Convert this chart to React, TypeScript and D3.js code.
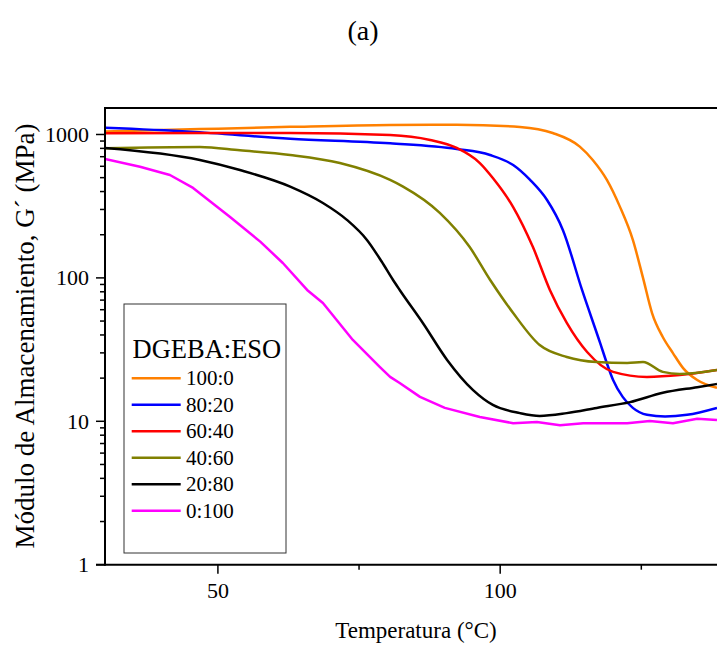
import React from 'react';
import * as d3 from 'd3';

// Temperatura (°C), G' (MPa) pairs
const s100_0: [number, number][] = [
  [30, 1047], [46.8, 1090], [62.8, 1130], [80.5, 1165], [92.3, 1170], [103.5, 1128],
  [109.3, 1024], [114.1, 823], [116.4, 664], [118.9, 482], [121.2, 314], [123.5, 184],
  [125.3, 100], [126.9, 56.9], [128.8, 38.7], [130.6, 29.9], [132.4, 23.5],
  [134.9, 19.4], [138.4, 17.1],
];
const s80_20: [number, number][] = [
  [30, 1115], [45, 1047], [62.8, 934], [80.5, 868], [92.3, 792], [98.2, 719],
  [102.3, 612], [105.3, 482], [108.3, 349], [111.1, 216], [114.5, 82.4], [117.7, 35.2],
  [118.9, 25.4], [120.0, 19.4], [121.7, 14.8], [123.5, 12.4], [126.0, 11.1],
  [129.2, 10.8], [133.1, 11.1], [138.4, 12.4],
];
const s60_40: [number, number][] = [
  [30, 1019], [62.8, 1024], [80.5, 993], [87.6, 916], [92.3, 805], [96.4, 632],
  [98.7, 497], [102.3, 312], [105.8, 164], [108.8, 82.4], [111.8, 48.5],
  [115.4, 30.4], [120.0, 22.1], [126.0, 20.4], [131.8, 21.0], [138.4, 22.8],
];
const s40_60: [number, number][] = [
  [30, 801], [46.8, 818], [53.9, 775], [62.8, 719], [71.6, 632], [80.5, 482],
  [82.8, 433], [89.3, 284], [94.6, 164], [98.2, 97], [102.3, 56.9], [107.0, 34.0],
  [111.8, 28.1], [117.1, 25.9], [122.5, 25.5], [125.3, 25.9], [128.8, 22.1],
  [131.8, 21.4], [138.4, 22.8],
];
const s20_80: [number, number][] = [
  [30, 805], [46.8, 664], [53.9, 565], [62.8, 433], [68.6, 333], [72.9, 253],
  [76.4, 184], [79.0, 130], [81.0, 97], [82.2, 82.4], [86.3, 48.5], [90.6, 26.8],
  [95.2, 16.5], [98.7, 13.0], [103.5, 11.4], [107.0, 10.9], [111.8, 11.4],
  [117.1, 12.4], [123.0, 13.6], [128.8, 15.8], [134.9, 17.3], [138.4, 18.2],
];
const s0_100: [number, number][] = [
  [30, 675], [36.2, 596], [41.5, 522], [45.6, 424], [52.1, 267], [57.5, 179],
  [61.5, 127], [65.8, 82.4], [68.6, 66.8], [73.9, 36.9], [78.7, 23.9], [80.5, 20.4],
  [82.2, 18.5], [85.8, 14.8], [90.2, 12.4], [96.4, 10.7], [102.3, 9.7], [106.5, 9.9],
  [110.6, 9.4], [114.7, 9.7], [122.5, 9.7], [126.5, 10.05], [130.6, 9.7],
  [134.9, 10.4], [138.4, 10.2],
];

const seriesNames = ['100:0', '80:20', '60:40', '40:60', '20:80', '0:100'];
const seriesData = [s100_0, s80_20, s60_40, s40_60, s20_80, s0_100];
const seriesColors = ['#FF8000', '#0000FF', '#FF0000', '#808000', '#000000', '#FF00FF'];
const seriesSmooth = [true, true, true, true, true, false];

const xMajorTicks = [50, 100];
const xMinorTicks = [75, 125];
const yMajorTicks = [1, 10, 100, 1000];
const yTickLabels = ['1', '10', '100', '1000'];

const FONT = '"Liberation Serif", "Times New Roman", serif';

export default function App() {
  const W = 717, H = 645;
  const left = 105, top = 108, bottom = 564.7, right = 717;
  const x = d3.scaleLinear().domain([30, 140]).range([105, 726]);
  const y = d3.scaleLog().domain([1, 1530]).range([bottom, top]);

  const yMinor: number[] = [];
  [1, 10, 100, 1000].forEach((d) => {
    for (let k = 2; k <= 9; k++) {
      const v = d * k;
      if (v <= 1530) yMinor.push(v);
    }
  });

  const lineSmooth = d3.line<[number, number]>().x((d) => x(d[0])).y((d) => y(d[1])).curve(d3.curveMonotoneX);
  const lineLinear = d3.line<[number, number]>().x((d) => x(d[0])).y((d) => y(d[1]));

  const legX = 124, legY = 304, legW = 162, legH = 249;

  return (
    <svg width={W} height={H} style={{ position: 'absolute', left: 0, top: 0, background: '#fff' }}>
      <defs>
        <clipPath id="plotclip">
          <rect x={left} y={top} width={right - left} height={bottom - top} />
        </clipPath>
      </defs>
      <rect x={0} y={0} width={W} height={H} fill="#fff" />
      <g style={{ fontFamily: FONT }}>
        <text x={363} y={40} fontSize={28} textAnchor="middle">(a)</text>

        <g clipPath="url(#plotclip)">
          {seriesData.map((s, i) => (
            <path key={i} d={(seriesSmooth[i] ? lineSmooth : lineLinear)(s) || ''} fill="none"
              stroke={seriesColors[i]} strokeWidth={2.5} strokeLinejoin="round" />
          ))}
        </g>

        {/* axes frame */}
        <line x1={left} x2={right} y1={top} y2={top} stroke="#000" strokeWidth={2} />
        <line x1={left} x2={left} y1={top - 1} y2={bottom + 1} stroke="#000" strokeWidth={2} />
        <line x1={96} x2={right} y1={bottom} y2={bottom} stroke="#000" strokeWidth={2} />

        {/* x ticks */}
        {xMajorTicks.map((t) => (
          <g key={'xm' + t}>
            <line x1={x(t)} x2={x(t)} y1={bottom} y2={bottom + 9} stroke="#000" strokeWidth={1.5} />
            <text x={x(t)} y={598} fontSize={22} textAnchor="middle">{t}</text>
          </g>
        ))}
        {xMinorTicks.map((t) => (
          <line key={'xn' + t} x1={x(t)} x2={x(t)} y1={bottom} y2={bottom + 5} stroke="#000" strokeWidth={1.5} />
        ))}

        {/* y ticks */}
        {yMajorTicks.map((t, i) => (
          <g key={'ym' + t}>
            <line x1={96} x2={left} y1={y(t)} y2={y(t)} stroke="#000" strokeWidth={1.5} />
            <text x={89} y={y(t)} dy="0.34em" fontSize={22} textAnchor="end">{yTickLabels[i]}</text>
          </g>
        ))}
        {yMinor.map((t) => (
          <line key={'yn' + t} x1={100} x2={left} y1={y(t)} y2={y(t)} stroke="#000" strokeWidth={1.5} />
        ))}

        {/* axis titles */}
        <text x={416} y={638} fontSize={23} textAnchor="middle">Temperatura (°C)</text>
        <text transform={`translate(34,336) rotate(-90)`} fontSize={27} textAnchor="middle">
          Módulo de Almacenamiento, G´ (MPa)
        </text>

        {/* legend */}
        <rect x={legX} y={legY} width={legW} height={legH} fill="#fff" stroke="#333" strokeWidth={1} />
        <text x={132.5} y={358} fontSize={26.5}>DGEBA:ESO</text>
        {seriesNames.map((n, i) => {
          const cy = 378.3 + i * 26.5;
          return (
            <g key={n}>
              <line x1={131.7} x2={180.7} y1={cy} y2={cy} stroke={seriesColors[i]} strokeWidth={2.5} />
              <text x={186} y={cy} dy="0.34em" fontSize={21}>{n}</text>
            </g>
          );
        })}
      </g>
    </svg>
  );
}
